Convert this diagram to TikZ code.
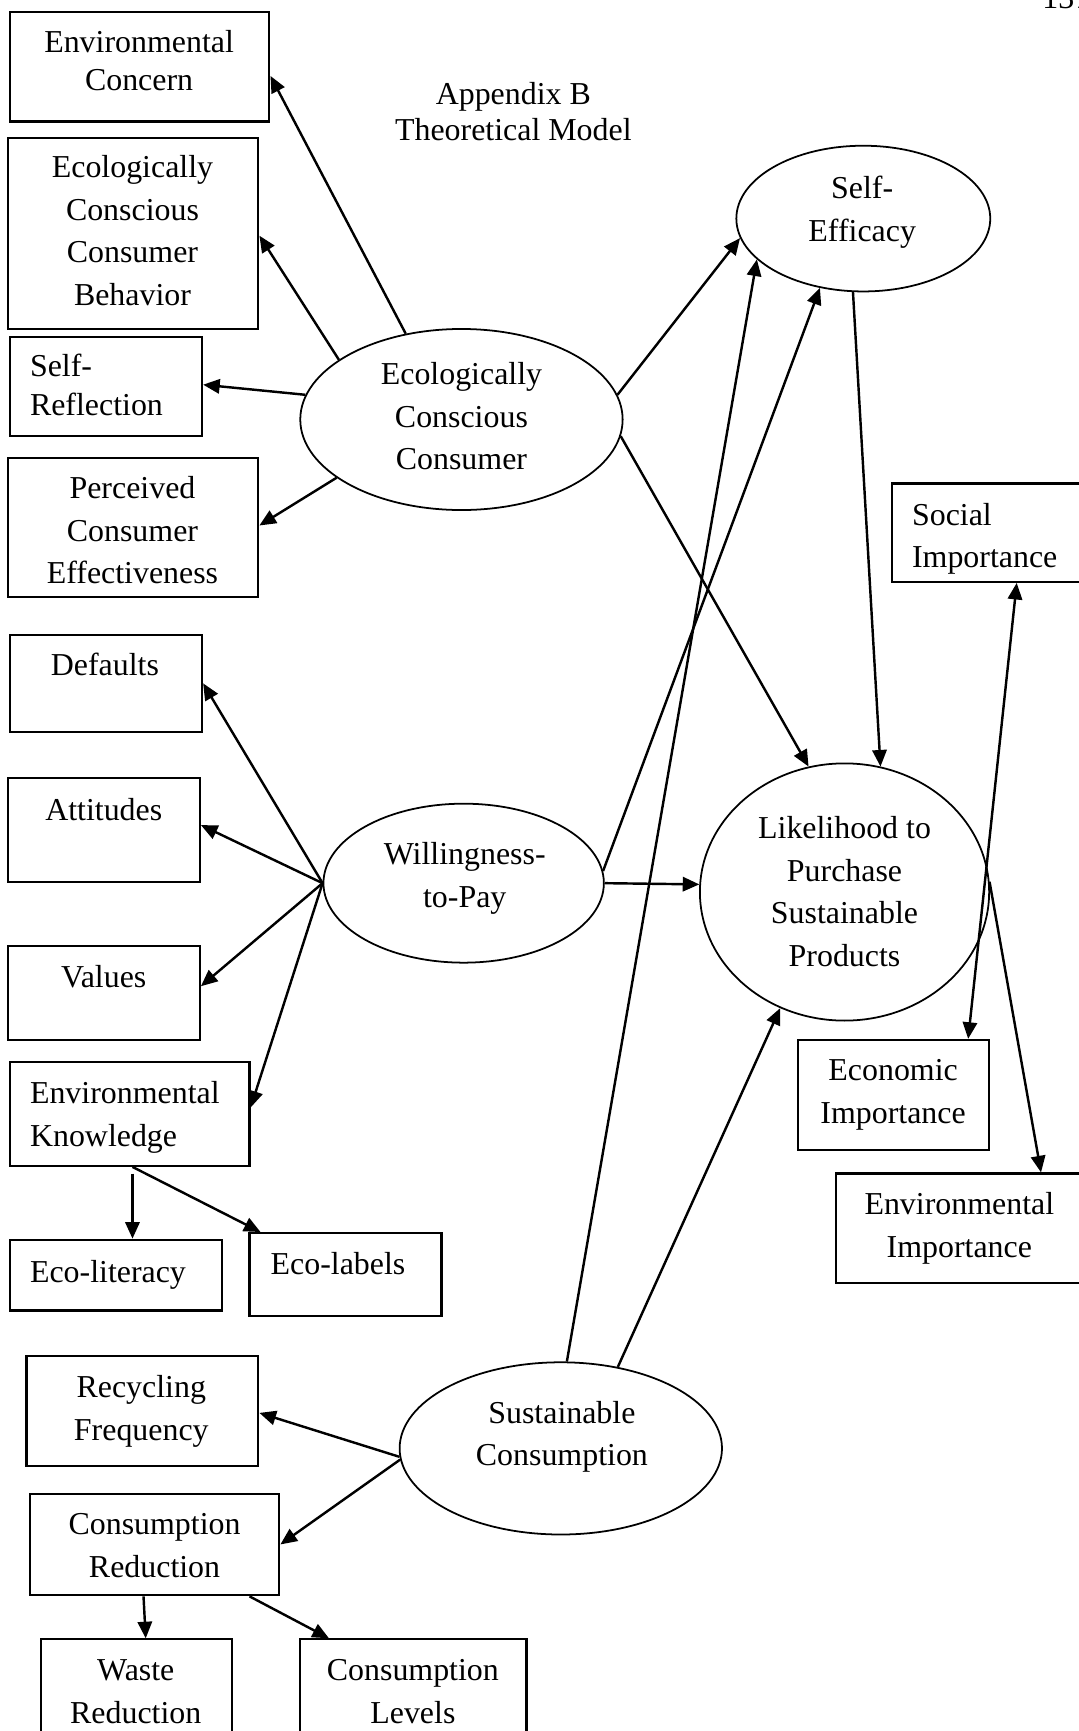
\documentclass[tikz,border=0pt]{standalone}
\usepackage{fontspec}
\setmainfont{Liberation Serif}
\usetikzlibrary{arrows.meta,shapes.geometric,calc}
\begin{document}
\begin{tikzpicture}[x=1pt,y=-1pt,
  box/.style={draw,line width=2pt,inner sep=0pt},
  oval/.style={draw,ellipse,line width=1.6pt,inner sep=0pt},
  txt/.style={inner sep=0pt,align=center,font=\fontsize{28.9}{38.5}\selectfont},
  ltxt/.style={txt,align=left,anchor=west},
  tip/.tip={Triangle[length=15pt,width=13pt]},
  arr/.style={line width=2.2pt,-tip},
  darr/.style={line width=2.2pt,tip-tip}]
\useasboundingbox (0,0) rectangle (977,1568);

% page number (cut at top, as in the reference)
\node[txt,anchor=base west] (pgno) at (944,7.5) {137};
% title
\node[txt,font=\fontsize{28.9}{33}\selectfont] (title) at (465,101) {Appendix B\\Theoretical Model};

% ---- boxes ----
\node[box,minimum width=235pt,minimum height=99pt] (envc) at (126.5,60.5) {};
\node[txt,font=\fontsize{28.9}{34}\selectfont] (envct) at (126,55) {Environmental\\Concern};

\node[box,minimum width=227pt,minimum height=173pt] (ecb) at (120.5,211.5) {};
\node[txt] (ecbt) at (120,209) {Ecologically\\Conscious\\Consumer\\Behavior};

\node[box,minimum width=174pt,minimum height=90pt] (selfr) at (96,350) {};
\node[ltxt,font=\fontsize{28.9}{35}\selectfont] (selfrt) at (27,348.5) {Self-\\Reflection};

\node[box,minimum width=227pt,minimum height=126pt] (pce) at (120.5,478) {};
\node[txt] (pcet) at (120,480.5) {Perceived\\Consumer\\Effectiveness};

\node[box,minimum width=174pt,minimum height=88pt] (defaults) at (96,619) {};
\node[txt] (defaultst) at (95,602) {Defaults};

\node[box,minimum width=174pt,minimum height=94pt] (attitudes) at (94,752) {};
\node[txt] (attitudest) at (94,733) {Attitudes};

\node[box,minimum width=174pt,minimum height=85pt] (values) at (94,899.5) {};
\node[txt] (valuest) at (94,885) {Values};

\node[box,minimum width=217pt,minimum height=94pt] (envk) at (117.5,1009) {};
\node[ltxt] (envkt) at (27,1012) {Environmental\\Knowledge};

\node[box,minimum width=192pt,minimum height=64pt] (ecolit) at (105,1155) {};
\node[ltxt] (ecolitt) at (27,1155) {Eco-literacy};

\node[box,minimum width=174pt,minimum height=75pt] (ecolab) at (313,1154.5) {};
\node[ltxt] (ecolabt) at (245,1145) {Eco-labels};

\node[box,minimum width=210pt,minimum height=100pt] (recyc) at (129,1278) {};
\node[txt] (recyct) at (128,1278.5) {Recycling\\Frequency};

\node[box,minimum width=226pt,minimum height=92pt] (consred) at (140,1399) {};
\node[txt] (consredt) at (140,1400) {Consumption\\Reduction};

\node[box,minimum width=173pt,minimum height=95pt] (waste) at (123.5,1532.5) {};
\node[txt] (wastet) at (123,1532.5) {Waste\\Reduction};

\node[box,minimum width=205pt,minimum height=95pt] (conslev) at (374.5,1532.5) {};
\node[txt] (conslevt) at (374,1532.5) {Consumption\\Levels};

\node[box,minimum width=182pt,minimum height=89pt] (social) at (899,482.5) {};
\node[ltxt] (socialt) at (826,488) {Social\\Importance};

\node[box,minimum width=173pt,minimum height=100pt] (econ) at (809.5,992) {};
\node[txt] (econt) at (809,991.5) {Economic\\Importance};

\node[box,minimum width=233pt,minimum height=99pt] (envimp) at (873.5,1112.5) {};
\node[txt] (envimpt) at (869,1112.5) {Environmental\\Importance};

% ---- ellipses ----
\node[oval,minimum width=292pt,minimum height=164pt] (ecc) at (418,380) {};
\node[txt] (ecct) at (418,377) {Ecologically\\Conscious\\Consumer};

\node[oval,minimum width=230pt,minimum height=132pt] (se) at (782,198) {};
\node[txt] (set) at (781,192) {Self-\\Efficacy};

\node[oval,minimum width=254pt,minimum height=144pt] (wtp) at (420,800) {};
\node[txt] (wtpt) at (421,795.5) {Willingness-\\to-Pay};

\node[oval,minimum width=262pt,minimum height=233pt] (lik) at (765,808) {};
\node[txt] (likt) at (765,807.5) {Likelihood to\\Purchase\\Sustainable\\Products};

\node[oval,minimum width=292pt,minimum height=156pt] (sc) at (508,1312) {};
\node[txt] (sct) at (509,1301.5) {Sustainable\\Consumption};

% ---- connectors ----
\draw[arr] (ecc.123) -- (envc.-4);
\draw[arr] (ecc.154) -- (ecb.-1);
\draw[arr] (ecc.171) -- (selfr.1);
\draw[arr] (ecc.205) -- (pce.1.5);
\draw[arr] (ecc.9) -- (se.189);
\draw[arr] (ecc.-6) -- (lik.106);
\draw[arr] (se.262) -- (lik.74);

\draw[arr] (wtp.180) -- (defaults.east);
\draw[arr] (wtp.180) -- (attitudes.3);
\draw[arr] (wtp.180) -- (values.4);
\draw[arr] (wtp.180) -- (envk.3);
\draw[arr] (wtp.5) -- (se.238);
\draw[arr] (wtp.0) -- (lik.177);

\draw[arr] (sc.86) -- (se.201);
\draw[arr] (sc.55) -- (lik.241);
\draw[arr] (sc.183) -- (recyc.-1);
\draw[arr] (sc.184) -- (consred.east);

\draw[arr] ([xshift=2.5pt,yshift=-6pt]envk.south) -- ([xshift=15pt]ecolit.north);
\draw[arr] ([xshift=2.5pt]envk.south) -- ([xshift=-77pt]ecolab.north);
\draw[arr] ([xshift=-10pt]consred.south) -- ([xshift=8.5pt]waste.north);
\draw[arr] ([xshift=86pt]consred.south) -- ([xshift=-76.5pt]conslev.north);

\draw[darr] ([xshift=22pt]social.south) -- ([xshift=67.5pt]econ.north);
\draw[arr] (lik.4) -- ([xshift=69.5pt]envimp.north);
\end{tikzpicture}
\end{document}
